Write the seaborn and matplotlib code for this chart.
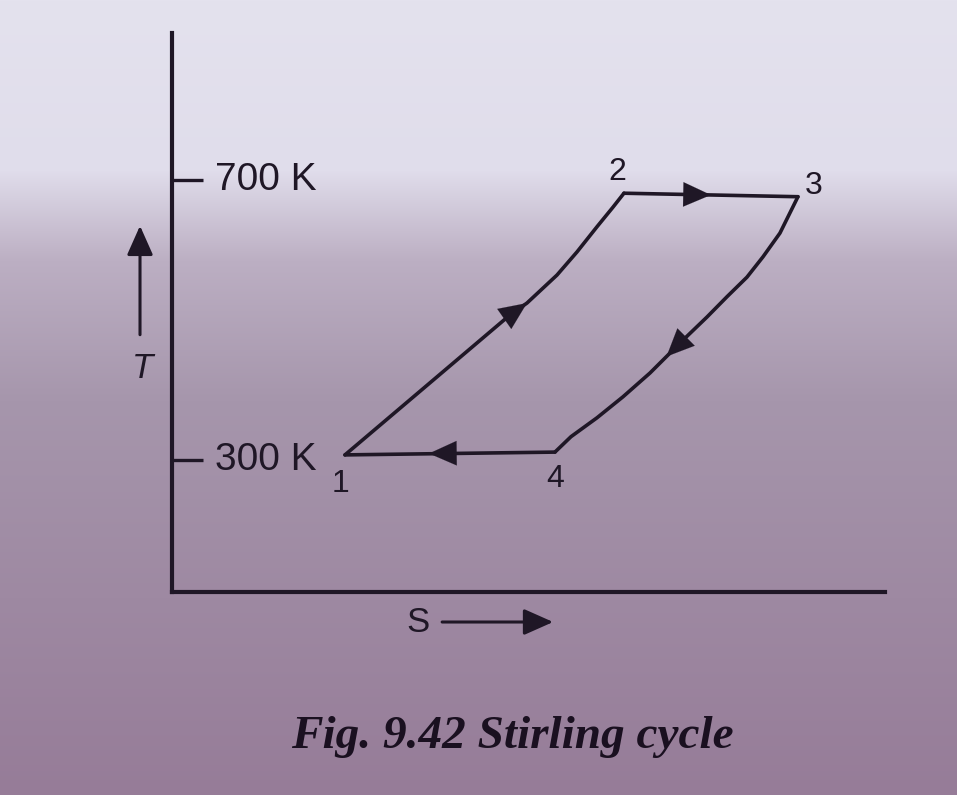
import numpy as np
import pandas as pd
import seaborn as sns
import matplotlib.pyplot as plt

# state points and process curves (S in arbitrary units, T in K)
s_12 = [1.73, 2.58, 3.38, 3.55, 3.85, 4.05, 4.25, 4.41, 4.52]
t_12 = [307, 410, 507, 524, 564, 597, 633, 661, 681]
s_23 = [4.52, 6.26]
t_23 = [681, 676]
s_34 = [6.26, 6.08, 5.91, 5.75, 5.55, 5.35, 5.11, 4.78, 4.51, 4.25, 3.99, 3.83]
t_34 = [676, 624, 590, 561, 533, 504, 471, 424, 390, 360, 333, 311]
s_41 = [3.83, 1.73]
t_41 = [311, 307]

state_names = ["1", "2", "3", "4"]
t_ticks = [300, 700]
t_tick_labels = ["300 K", "700 K"]

ink = "#1f1726"

sns.set_style("white")
plt.rcParams["font.family"] = ["Liberation Sans", "DejaVu Sans"]

fig = plt.figure(figsize=(9.57, 7.95), dpi=100)

# photo-like paper background
ax_bg = fig.add_axes([0, 0, 1, 1])
rows = np.arange(795)
stops = [0, 170, 260, 400, 795]
cols = np.array([[228, 226, 238], [224, 221, 235], [188, 175, 195],
                 [166, 150, 172], [150, 124, 152]]) / 255
grad = np.stack([np.interp(rows, stops, cols[:, i]) for i in range(3)], axis=1)
ax_bg.imshow(np.repeat(grad[:, None, :], 10, axis=1), aspect="auto", extent=[0, 1, 0, 1])
ax_bg.axis("off")

ax = fig.add_axes([0.1797, 0.2553, 0.745, 0.7032])
ax.set_facecolor("none")

segments = [(s_12, t_12), (s_23, t_23), (s_34, t_34), (s_41, t_41)]
for s, t in segments:
    df = pd.DataFrame({"S": s, "T": t})
    sns.lineplot(data=df, x="S", y="T", sort=False, estimator=None, color=ink,
                 lw=2.6, solid_joinstyle="round", solid_capstyle="round", ax=ax)

# direction arrows along each process
def head(tail, tip):
    ax.annotate("", xy=tip, xytext=tail,
                arrowprops=dict(arrowstyle="-|>,head_length=0.9,head_width=0.4",
                                color=ink, lw=0.1, mutation_scale=22,
                                shrinkA=0, shrinkB=0))

head((s_12[2], t_12[2]), (s_12[3], t_12[3]))
head((s_23[0], t_23[0]), (np.mean(s_23), np.mean(t_23)))
head((s_34[6], t_34[6]), (np.mean(s_34[6:8]), np.mean(t_34[6:8])))
head((s_41[0], t_41[0]), (0.4 * s_41[0] + 0.6 * s_41[1], np.mean(t_41)))

# state labels
starts = [(s_12[0], t_12[0]), (s_23[0], t_23[0]), (s_34[0], t_34[0]), (s_41[0], t_41[0])]
offsets = [(-0.04, -42), (-0.07, 30), (0.16, 15), (0.0, -38)]
for name, (s, t), (ds, dt) in zip(state_names, starts, offsets):
    ax.text(s + ds, t + dt, name, fontsize=23, color=ink, ha="center", va="center")

ax.set_xlim(0, 7.13)
ax.set_ylim(111, 910)
ax.set_xticks([])
ax.set_yticks(t_ticks)
ax.set_yticklabels([])
ax.tick_params(axis="y", direction="in", length=22, width=2.4, color=ink, left=True)
for lab, t in zip(t_tick_labels, t_ticks):
    ax.text(0.43, t, lab, fontsize=28, color=ink, ha="left", va="center")

for side in ["top", "right"]:
    ax.spines[side].set_visible(False)
for side in ["left", "bottom"]:
    ax.spines[side].set_color(ink)
    ax.spines[side].set_linewidth(3.0)
ax.set_xlabel("")
ax.set_ylabel("")

# axis names with arrows
fig.text(0.149, 0.537, "T", fontsize=25, style="italic", color=ink, ha="center", va="center")
fig.text(0.437, 0.2176, "S", fontsize=25, color=ink, ha="center", va="center")
arrow_style = dict(arrowstyle="-|>,head_length=0.9,head_width=0.4", color=ink,
                   lw=2.2, mutation_scale=20, shrinkA=0, shrinkB=0)
ax.annotate("", xy=(0.1463, 0.716), xytext=(0.1463, 0.579),
            xycoords="figure fraction", textcoords="figure fraction", arrowprops=arrow_style)
ax.annotate("", xy=(0.578, 0.2176), xytext=(0.462, 0.2176),
            xycoords="figure fraction", textcoords="figure fraction", arrowprops=arrow_style)

fig.text(0.535, 0.073, "Fig. 9.42 Stirling cycle", fontsize=34, color="#1a1020",
         family=["Liberation Serif", "DejaVu Serif"], style="italic", weight="bold",
         ha="center", va="center")

fig.savefig("out.png", dpi=100)
